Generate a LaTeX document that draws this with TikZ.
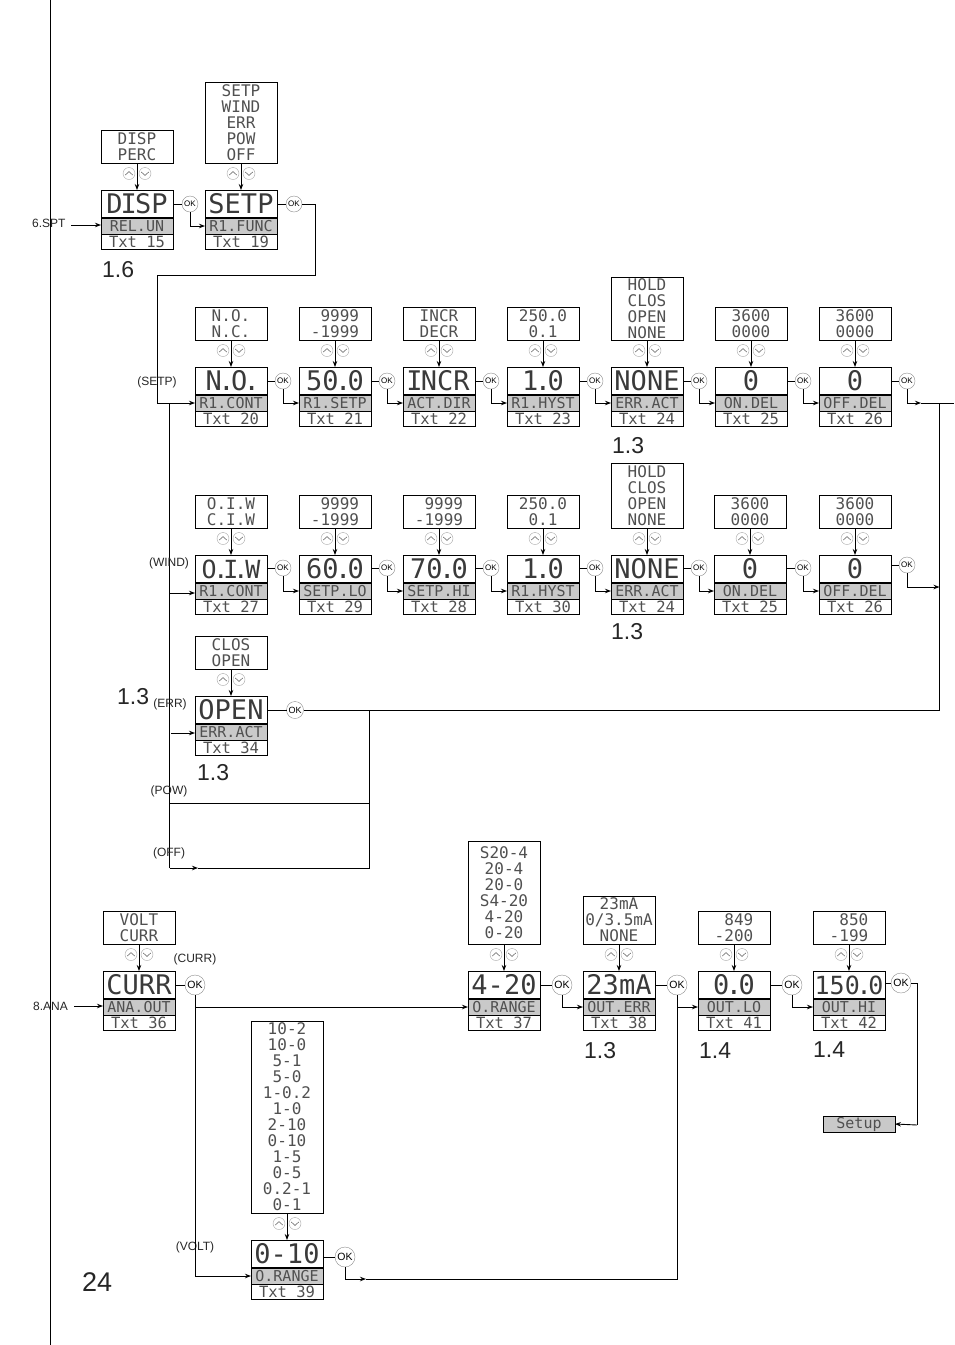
\documentclass[tikz,border=0pt]{standalone}
\usepackage{fontspec}
\setmainfont{Liberation Sans}
\newfontfamily\lcdfont{DejaVu Sans Mono}
\usetikzlibrary{arrows.meta,calc}
\definecolor{lcdgrey}{HTML}{C9C9C9}
\definecolor{lcdink}{HTML}{3A3A3A}
\definecolor{lcdsoft}{HTML}{505050}
\newcommand\pp{\makebox[.34em][c]{.}}
\newcommand\ii{\makebox[.46em][c]{I}}
\newcommand\sz[1]{\fontsize{#1}{#1}\selectfont}
\tikzset{
  x=1pt,y=-1pt,
  lcdbox/.style={draw=black,line width=.9pt,minimum width=72pt,inner sep=0pt,outer sep=0pt,anchor=north,font=\lcdfont,text=lcdsoft},
  bigcell/.style={lcdbox,minimum height=28pt,anchor=north west,font=\lcdfont\sz{27},text=lcdink},
  greycell/.style={lcdbox,minimum height=16pt,fill=lcdgrey,font=\lcdfont\sz{15}},
  txtcell/.style={lcdbox,minimum height=15.5pt,font=\lcdfont\sz{15.5}},
  optcell/.style={lcdbox,anchor=north west,align=center,font=\lcdfont\sz{16}},
  okc/.style={circle,draw=black!45,line width=.4pt,fill=white,minimum size=16pt,inner sep=0pt,outer sep=0pt,font=\sz{8}},
  okbig/.style={minimum size=20pt,font=\sz{10.5}},
  okmid/.style={minimum size=17pt,font=\sz{9}},
  udc/.style={circle,draw=black!35,line width=.4pt,fill=white,minimum size=12pt,inner sep=0pt,outer sep=0pt},
  chev/.style={draw=black!65,line width=.5pt},
  lnk/.style={draw=black,line width=.9pt},
  arr/.style={lnk,-{Stealth[length=6pt,width=4.5pt]}},
  lab/.style={inner sep=0pt,font=\sz{12},text=black!85},
  num/.style={inner sep=0pt,anchor=base west,font=\sz{23},text=black!85},
}
% id, x, top, big, grey, txt, optTop, options
\newcommand\dbox[8]{%
  \pgfmathsetmacro\opth{#3-27-#7}
  \node[bigcell] (#1) at (#2,#3) {#4};
  \node[greycell] (#1-g) at (#1.south) {#5};
  \node[txtcell] (#1-t) at (#1-g.south) {#6};
  \draw[line width=1.6pt] (#1-g.north west) -- (#1-g.north east);
  \node[optcell,minimum height=\opth pt] (#1-o) at (#2,#7) {#8};
  \node[udc] (#1-up) at ([xshift=-8pt,yshift=-10.5pt]#1-o.south) {};
  \node[udc] (#1-dn) at ([xshift=8pt,yshift=-10.5pt]#1-o.south) {};
  \draw[chev] ([shift={(-3.8pt,-1.6pt)}]#1-up.center) -- ([shift={(0pt,1.9pt)}]#1-up.center) -- ([shift={(3.8pt,-1.6pt)}]#1-up.center);
  \draw[chev] ([shift={(-3.8pt,1.6pt)}]#1-dn.center) -- ([shift={(0pt,-1.9pt)}]#1-dn.center) -- ([shift={(3.8pt,1.6pt)}]#1-dn.center);
  \draw[arr] (#1-o) -- (#1);
}
\newcommand\okat[4][]{\node[okc,#1] (#2-ok) at (#3,#4) {OK};\draw[lnk] (#2.east |- #2-ok) -- (#2-ok.west);}
\newcommand\nx[2]{\draw[arr] (#1-ok.south) |- (#2-g.west);}
\begin{document}
\begin{tikzpicture}
\useasboundingbox (0,0) rectangle (954,1345);
\coordinate (pgtop) at (50.5,0);
\coordinate (pgbot) at (50.5,1345);
\draw[lnk] (pgtop) -- (pgbot);
\node[num,font=\sz{27}] (pageno) at (82,1291) {24};

% --- first row
\dbox{disp}{101}{190}{D\ii SP}{REL.UN}{Txt 15}{130}{DISP\\PERC}
\dbox{setp}{205}{190}{SETP}{R1.FUNC}{Txt 19}{82}{SETP\\WIND\\ERR\\POW\\OFF}
\okat{disp}{190}{204}
\okat{setp}{294}{204}
\nx{disp}{setp}
\node[lab,anchor=west] (spt) at (32,223) {6.SPT};
\coordinate (sptl) at (71,225);
\draw[arr] (sptl) -- (disp-g.west |- sptl);
\node[num] (n16) at (102,277) {1.6};

% --- SETP row
\dbox{aa}{195}{367}{N\pp O\pp}{R1.CONT}{Txt 20}{307}{N.O.\\N.C.}
\dbox{ab}{299}{367}{50\pp 0}{R1.SETP}{Txt 21}{307}{\phantom{-}9999\\-1999}
\dbox{ac}{403}{367}{\ii NCR}{ACT.DIR}{Txt 22}{307}{INCR\\DECR}
\dbox{ad}{507}{367}{1\pp 0}{R1.HYST}{Txt 23}{307}{250.0\\0.1}
\dbox{ae}{611}{367}{NONE}{ERR.ACT}{Txt 24}{277}{HOLD\\CLOS\\OPEN\\NONE}
\dbox{af}{715}{367}{0}{ON.DEL}{Txt 25}{307}{3600\\0000}
\dbox{ag}{819}{367}{0}{OFF.DEL}{Txt 26}{307}{3600\\0000}
\okat{aa}{283}{381}\okat{ab}{387}{381}\okat{ac}{491}{381}\okat{ad}{595}{381}\okat{ae}{699}{381}\okat{af}{803}{381}\okat{ag}{907}{381}
\nx{aa}{ab}\nx{ab}{ac}\nx{ac}{ad}\nx{ad}{ae}\nx{ae}{af}\nx{af}{ag}
\node[num] (n13a) at (612,453) {1.3};

% --- WIND row
\dbox{ba}{195}{555}{\sz{25}O\pp\ii\pp W}{R1.CONT}{Txt 27}{495}{O.I.W\\C.I.W}
\dbox{bb}{299}{555}{60\pp 0}{SETP.LO}{Txt 29}{495}{\phantom{-}9999\\-1999}
\dbox{bc}{403}{555}{70\pp 0}{SETP.HI}{Txt 28}{495}{\phantom{-}9999\\-1999}
\dbox{bd}{507}{555}{1\pp 0}{R1.HYST}{Txt 30}{495}{250.0\\0.1}
\dbox{be}{611}{555}{NONE}{ERR.ACT}{Txt 24}{463}{HOLD\\CLOS\\OPEN\\NONE}
\dbox{bf}{714}{555}{0}{ON.DEL}{Txt 25}{495}{3600\\0000}
\dbox{bg}{819}{555}{0}{OFF.DEL}{Txt 26}{495}{3600\\0000}
\okat{ba}{283}{568}\okat{bb}{387}{568}\okat{bc}{491}{568}\okat{bd}{595}{568}\okat{be}{699}{568}\okat{bf}{803}{568}\okat{bg}{907}{565}
\nx{ba}{bb}\nx{bb}{bc}\nx{bc}{bd}\nx{bd}{be}\nx{be}{bf}\nx{bf}{bg}
\node[num] (n13b) at (611,639) {1.3};

% --- ERR
\dbox{ca}{195}{696}{OPEN}{ERR.ACT}{Txt 34}{636}{CLOS\\OPEN}
\okat[okmid]{ca}{295}{710}
\node[num] (n13c) at (117,704) {1.3};
\node[num] (n13d) at (197,780) {1.3};

% --- function branches
\coordinate (sa) at (315,204);
\coordinate (sb) at (315,275);
\coordinate (sc) at (157,275);
\coordinate (sd) at (157,403);
\draw[lnk] (setp-ok.east) -- (sa) -- (sb) -- (sc) -- (sd);
\draw[arr] (sd) -- (aa-g.west);
\coordinate (ta) at (169.5,403);
\coordinate (tb) at (169.5,868);
\coordinate (tc) at (198,868);
\coordinate (td) at (369.5,868);
\coordinate (te) at (369.5,710);
\draw[lnk] (ta) -- (tb);
\draw[arr] (tb) -- (tc);
\draw[lnk] (tc) -- (td) -- (te);
\coordinate (wa) at (169.5,593);
\draw[arr] (wa) -- (ba-g.west |- wa);
\coordinate (ea) at (171,733);
\draw[arr] (ea) -- (ca-g.west |- ea);
\coordinate (pa) at (169.5,803);
\coordinate (pb) at (369.5,803);
\draw[lnk] (pa) -- (pb);
\node[lab] (lsetp) at (157,382) {(SETP)};
\node[lab] (lwind) at (169,563) {(WIND)};
\node[lab] (lerr) at (170,704) {(ERR)};
\node[lab] (lpow) at (169,791) {(POW)};
\node[lab] (loff) at (169,853) {(OFF)};

% --- right collector
\coordinate (ra) at (921,403);
\coordinate (rb) at (954,403);
\coordinate (rc) at (939.5,403);
\coordinate (rd) at (939.5,710);
\coordinate (re) at (939.5,587);
\draw[arr] (ag-ok.south) |- (ra);
\draw[lnk] (ra) -- (rb);
\draw[lnk] (rc) -- (rd) -- (ca-ok.east);
\draw[arr] (bg-ok.south) |- (re);

% --- analogue row
\dbox{da}{103}{971}{CURR}{ANA.OUT}{Txt 36}{911}{VOLT\\CURR}
\dbox{db}{468}{971}{4-20}{O.RANGE}{Txt 37}{841}{S20-4\\20-4\\20-0\\S4-20\\4-20\\0-20}
\dbox{dc}{583}{971}{23mA}{OUT.ERR}{Txt 38}{896}{23mA\\0/3.5mA\\NONE}
\dbox{dd}{698}{971}{0\pp 0}{OUT.LO}{Txt 41}{911}{\phantom{-}849\\-200}
\dbox{de}{813}{971}{\sz{25}150\pp 0}{OUT.HI}{Txt 42}{911}{\phantom{-}850\\-199}
\dbox{df}{251}{1240}{0-10}{O.RANGE}{Txt 39}{1021}{10-2\\10-0\\5-1\\5-0\\1-0.2\\1-0\\2-10\\0-10\\1-5\\0-5\\0.2-1\\0-1}
\okat[okbig]{da}{195}{985}\okat[okbig]{db}{562}{985}\okat[okbig]{dc}{677}{985}\okat[okbig]{dd}{792}{985}\okat[okbig]{de}{901}{983}\okat[okbig]{df}{345}{1257}
\nx{da}{db}\nx{db}{dc}\nx{dc}{dd}\nx{dd}{de}
\node[lab,anchor=west] (ana) at (33,1006) {8.ANA};
\coordinate (anal) at (74,1006);
\draw[arr] (anal) -- (da-g.west |- anal);
\node[lab] (lcurr) at (195,959) {(CURR)};
\node[lab] (lvolt) at (195,1247) {(VOLT)};
\draw[arr] (da-ok.south) |- (df-g.west);
\coordinate (fa) at (366,1279);
\coordinate (fb) at (677,1279);
\draw[arr] (df-ok.south) |- (fa);
\draw[lnk] (fa) -- (fb) -- (dc-ok.south);
\node[num] (n13e) at (584,1058) {1.3};
\node[num] (n14a) at (699,1058) {1.4};
\node[num] (n14b) at (813,1057) {1.4};
\node[lcdbox,anchor=north west,fill=lcdgrey,minimum height=16pt,font=\lcdfont\sz{15}] (setup) at (823,1116) {Setup};
\coordinate (ga) at (917,983);
\coordinate (gb) at (917,1125);
\draw[lnk] (de-ok.east) -- (ga) -- (gb);
\draw[arr] (gb) -- (setup.east);
\end{tikzpicture}
\end{document}
